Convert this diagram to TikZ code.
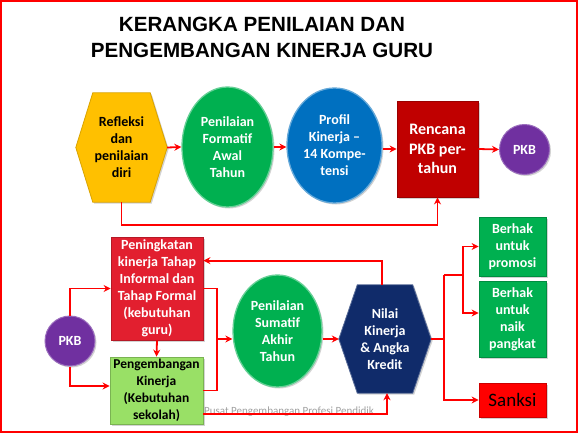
\documentclass[tikz,border=0pt]{standalone}
\usepackage{fontspec}
\setmainfont{Carlito}[BoldFont={Carlito Bold}]
\newfontfamily\titlefont{Liberation Sans}[BoldFont={Liberation Sans Bold}]
\usetikzlibrary{shapes.geometric,arrows.meta,shadows,calc}
\pgfdeclarelayer{background}
\pgfsetlayers{background,main}
\definecolor{cyellow}{HTML}{FFC000}
\definecolor{cgreen}{HTML}{00B050}
\definecolor{cblue}{HTML}{0070C0}
\definecolor{cdred}{HTML}{C00000}
\definecolor{cpurple}{HTML}{7030A0}
\definecolor{ccrim}{HTML}{E21F2F}
\definecolor{clgreen}{HTML}{99E066}
\definecolor{cnavy}{HTML}{102B6A}
\definecolor{cbright}{HTML}{FF0000}
\definecolor{cred}{HTML}{FF0000}
\begin{document}
\begin{tikzpicture}[x=1pt,y=-1pt,
  txt/.style={font=\bfseries\fontsize{14}{17}\selectfont, align=center, inner sep=0pt},
  wtxt/.style={txt, text=white},
  shad/.style={drop shadow={opacity=0.35, shadow xshift=1.5pt, shadow yshift=-1.5pt}},
  ell/.style={ellipse, shad, wtxt, draw=#1!60!white, line width=1.3pt, fill=#1, inner sep=0pt},
  box/.style={rectangle, shad, draw=#1!80!black, line width=0.8pt, fill=#1, inner sep=0pt},
  pkbc/.style={circle, shad, wtxt, fill=cpurple, draw=cpurple!70!white, line width=1pt, minimum size=50pt},
  hexbox/.style={rectangle, inner sep=0pt, draw=none},
  conn/.style={draw=cred, line width=1.8pt, -{Stealth[length=7pt,width=7pt]}},
  lnk/.style={draw=cred, line width=1.8pt},
  wmark/.style={text=gray!75, font=\fontsize{11}{13}\selectfont, inner sep=0pt}
]
\useasboundingbox (0,0) rectangle (580,434);
\draw[cred, line width=1.5pt] (1,1) rectangle (577,432);

% title
\node[text=black, font=\titlefont\bfseries\fontsize{20.6}{26}\selectfont, align=center, inner sep=0pt] (title) at (262,37.7) {KERANGKA PENILAIAN DAN\\PENGEMBANGAN KINERJA GURU};

% top row
\node[hexbox, txt, minimum width=91pt, minimum height=109pt] (hex1) at (121.5,147.5) {Refleksi\\dan\\penilaian\\diri};
\node[ell=cgreen, minimum width=91pt, minimum height=120pt] (pfa) at (227.5,147) {Penilaian\\Formatif\\Awal\\Tahun};
\node[ell=cblue, minimum width=95pt, minimum height=115pt] (pk) at (334.5,145.5) {Profil\\Kinerja –\\14 Kompe-\\tensi};
\node[box=cdred, wtxt, font=\bfseries\fontsize{16}{19.5}\selectfont, minimum width=81pt, minimum height=96pt] (rpkb) at (437.5,149) {Rencana\\PKB per-\\tahun};
\node[pkbc] (pkb1) at (524.5,149.5) {PKB};

% bottom part
\node[wmark] (wm) at (289,412) {Pusat Pengembangan Profesi Pendidik};
\node[pkbc] (pkb2) at (70,341) {PKB};
\node[box=ccrim, wtxt, minimum width=92pt, minimum height=103pt] (rr) at (157,288.5) {Peningkatan\\kinerja Tahap\\Informal dan\\Tahap Formal\\(kebutuhan\\guru)};
\node[box=clgreen, txt, font=\bfseries\fontsize{13.5}{17}\selectfont, minimum width=93pt, minimum height=67pt] (gr) at (156.5,390.5) {Pengembangan\\Kinerja\\(Kebutuhan\\sekolah)};
\node[ell=cgreen, minimum width=89pt, minimum height=112pt] (pse) at (277.5,331) {Penilaian\\Sumatif\\Akhir\\Tahun};
\node[hexbox, wtxt, minimum width=92pt, minimum height=108pt] (nk) at (385,339) {Nilai\\Kinerja\\\& Angka\\Kredit};
\node[box=cgreen, wtxt, minimum width=67pt, minimum height=59pt] (b1) at (512.5,246.5) {Berhak\\untuk\\promosi};
\node[box=cgreen, wtxt, minimum width=67pt, minimum height=76pt] (b2) at (512.5,319) {Berhak\\untuk\\naik\\pangkat};
\node[box=cbright, font=\fontsize{19}{22}\selectfont, minimum width=67pt, minimum height=34pt] (sk) at (512.5,400) {Sanksi};

% hexagon fills
\begin{pgfonlayer}{background}
\fill[cyellow, shad, draw=cyellow!85!black, line width=0.8pt] (hex1.west) -- ([xshift=17pt]hex1.north west) -- ([xshift=-17pt]hex1.north east) -- (hex1.east) -- ([xshift=-17pt]hex1.south east) -- ([xshift=17pt]hex1.south west) -- cycle;
\fill[cnavy, shad, draw=cnavy!70!white, line width=0.8pt] (nk.west) -- ([xshift=18.5pt]nk.north west) -- ([xshift=-18.5pt]nk.north east) -- (nk.east) -- ([xshift=-18.5pt]nk.south east) -- ([xshift=18.5pt]nk.south west) -- cycle;
\end{pgfonlayer}

% top connectors
\draw[conn] (hex1.east) -- (pfa.west);
\draw[conn] (pfa.east) -- (pfa.east -| pk.west);
\draw[conn] (pk.east |- rpkb.west) -- (rpkb.west);
\draw[conn] (rpkb.east) -- (pkb1.west);
\draw[conn] (hex1.south) -- ++(0,23) -| (rpkb.south);

% bottom connectors
\coordinate (bj) at (217,289);
\coordinate (rj) at (444,275);
\coordinate (rk) at (463,275);
\draw[conn] (pkb2.north) |- (rr.west);
\draw[conn] (pkb2.south) |- ([yshift=4.5pt]gr.west);
\draw[conn] (rr.south) -- (gr.north);
\draw[lnk] (rr.east) -| (bj |- gr.east) -- (gr.east);
\draw[conn] (bj |- nk.west) -- (pse.west |- nk.west);
\draw[conn] (pse.east |- nk.west) -- (nk.west);
\draw[conn] ([xshift=-3pt]nk.north) |- ([yshift=-24pt]rr.north east);
\draw[conn] ([yshift=-23.5pt]gr.east) -| ([xshift=2pt]nk.south);
\draw[lnk] (nk.east) -| (rj);
\draw[conn] (rj) |- (sk.west);
\draw[lnk] (rj) -- (rk);
\draw[conn] (rk) |- (b1.west);
\draw[conn] (rk) |- ([yshift=6pt]b2.west);
\end{tikzpicture}
\end{document}
